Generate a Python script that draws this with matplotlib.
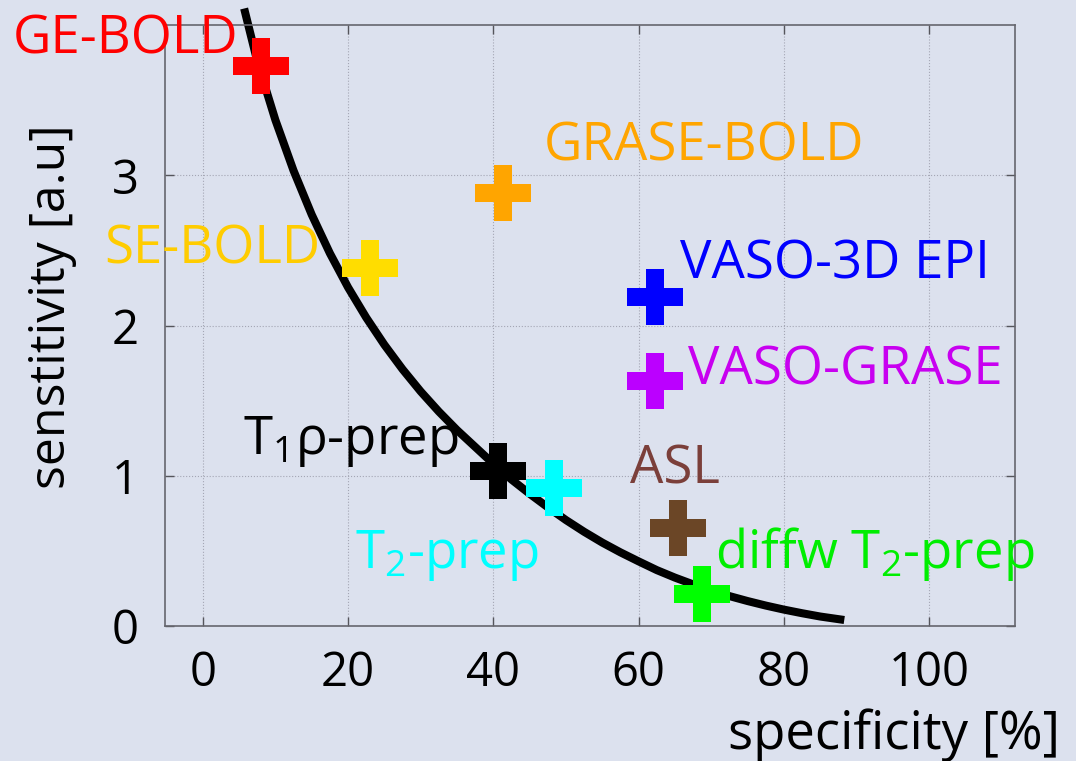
import matplotlib
matplotlib.use("Agg")
import matplotlib.pyplot as plt

plt.rcParams['font.family'] = ['Open Sans', 'DejaVu Sans']
plt.rcParams['mathtext.default'] = 'regular'

# fMRI contrasts: specificity [%] vs sensitivity [a.u.]
methods = ['GE-BOLD', 'GRASE-BOLD', 'SE-BOLD', 'VASO-3D EPI', 'VASO-GRASE',
           r'$T_1$ρ-prep', 'ASL', r'$T_2$-prep', r'diffw $T_2$-prep']
specificity = [8.0, 41.3, 23.0, 62.2, 62.2, 40.6, 65.4, 48.3, 68.7]
sensitivity = [3.73, 2.88, 2.38, 2.19, 1.63, 1.03, 0.65, 0.92, 0.21]
marker_colors = ['#ff0000', '#ffa500', '#ffdd00', '#0000ff', '#bb00ff',
                 '#000000', '#6b4626', '#00ffff', '#00ff00']
text_colors = ['#ff0000', '#ffa500', '#ffcc00', '#0000ff', '#c800f0',
               '#000000', '#7b3f3a', '#00ffff', '#00ee00']
label_x = [-26.2, 47.0, -13.6, 65.7, 66.8, 5.6, 58.8, 21.0, 70.5]
label_y = [3.81, 3.10, 2.415, 2.31, 1.61, 1.144, 0.949, 0.389, 0.389]

# sensitivity/specificity trade-off curve
curve_x = [5.7, 7.5, 10.0, 12.5, 15.0, 17.5, 20.0, 22.5, 25.0, 27.5, 30.0,
           32.5, 35.0, 37.5, 40.0, 42.5, 45.0, 47.5, 50.0, 52.5, 55.0, 57.5,
           60.0, 62.5, 65.0, 67.5, 70.0, 72.5, 75.0, 77.5, 80.0, 82.5, 85.0,
           88.3]
curve_y = [4.110, 3.760, 3.368, 3.031, 2.738, 2.481, 2.254, 2.053, 1.872,
           1.709, 1.561, 1.427, 1.304, 1.192, 1.080, 0.975, 0.880, 0.790,
           0.705, 0.627, 0.555, 0.490, 0.430, 0.372, 0.322, 0.277, 0.236,
           0.199, 0.166, 0.136, 0.109, 0.085, 0.063, 0.040]

xticks = [0, 20, 40, 60, 80, 100]
yticks = [0, 1, 2, 3]

bg = '#dce1ee'
fig = plt.figure(figsize=(10.76, 7.61), dpi=100, facecolor=bg)
ax = fig.add_axes([0.1533, 0.1774, 0.79, 0.7897], facecolor=bg)

ax.plot(curve_x, curve_y, color='black', lw=5.8, solid_capstyle='butt',
        solid_joinstyle='round', clip_on=False, zorder=2)

for x, y, c in zip(specificity, sensitivity, marker_colors):
    ax.plot(x, y, marker='P', ms=40, mew=0, color=c, zorder=3, clip_on=False)

for name, x, y, c in zip(methods, label_x, label_y, text_colors):
    ax.text(x, y, name, color=c, fontsize=38, ha='left', va='baseline', zorder=4)

ax.set_xlim(-5.2, 111.8)
ax.set_ylim(0, 4)
ax.set_xticks(xticks)
ax.set_yticks(yticks)
ax.tick_params(direction='in', length=6.5, width=1.0, color='#55555c',
               labelsize=34, top=True, right=True, pad=17)
ax.tick_params(axis='y', pad=19)
ax.grid(True, linestyle=':', linewidth=0.8, color='#a4a6b4')
for s in ax.spines.values():
    s.set_color('#66666e')
    s.set_linewidth(1.2)

fig.text(728 / 1076, 12 / 761, 'specificity [%]', fontsize=38,
         ha='left', va='baseline')
fig.text(52 / 1076, 1 - 307 / 761, 'senstitivity [a.u]', fontsize=36,
         rotation=90, ha='center', va='center')

fig.savefig('out.png', dpi=100, facecolor=bg)
